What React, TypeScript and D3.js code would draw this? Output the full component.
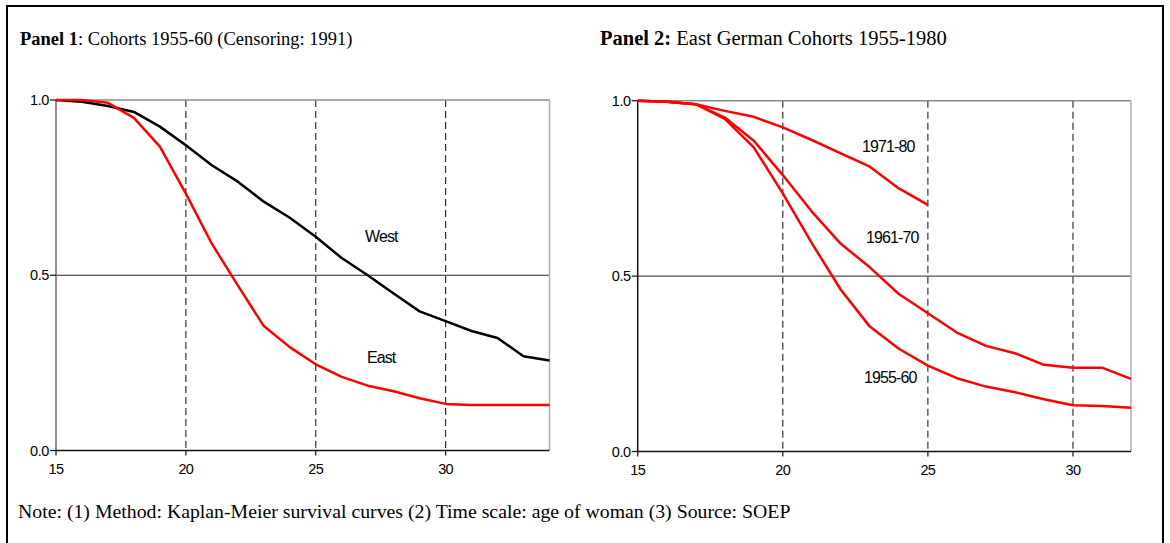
import React from "react";
import * as d3 from "d3";

// ages (x values) and survival estimates
const agesP1 = [15, 16, 17, 18, 19, 20, 21, 22, 23, 24, 25, 26, 27, 28, 29, 30, 31, 32, 33, 34];
const west = [1.0, 0.995, 0.983, 0.966, 0.924, 0.871, 0.814, 0.767, 0.71, 0.664, 0.61, 0.549, 0.5, 0.448, 0.397, 0.369, 0.341, 0.321, 0.269, 0.257];
const east = [1.0, 1.0, 0.992, 0.949, 0.867, 0.733, 0.59, 0.471, 0.355, 0.295, 0.246, 0.21, 0.185, 0.169, 0.149, 0.133, 0.13, 0.13, 0.13, 0.13];

const agesP2 = [15, 16, 17, 18, 19, 20, 21, 22, 23, 24, 25, 26, 27, 28, 29, 30, 31, 32];
const c1955 = [1.0, 0.997, 0.99, 0.948, 0.867, 0.736, 0.594, 0.461, 0.356, 0.293, 0.245, 0.209, 0.185, 0.169, 0.149, 0.132, 0.13, 0.125];
const c1961 = [1.0, 0.997, 0.99, 0.952, 0.886, 0.788, 0.684, 0.592, 0.525, 0.449, 0.394, 0.339, 0.301, 0.28, 0.247, 0.239, 0.239, 0.207];
const c1971 = [1.0, 0.997, 0.99, 0.971, 0.954, 0.924, 0.888, 0.85, 0.812, 0.75, 0.703];

const xTicks = [15, 20, 25, 30];
const yTicks = [0, 0.5, 1];

type Series = { ages: number[]; values: number[]; color: string };
type Label = { text: string; x: number; y: number };

function Panel(props: {
  left: number; right: number; top: number; bottom: number;
  xMax: number; axisColor: string;
  series: Series[]; labels: Label[];
}) {
  const { left, right, top, bottom, xMax, axisColor, series, labels } = props;
  const x = d3.scaleLinear().domain([15, xMax]).range([left, right]);
  const y = d3.scaleLinear().domain([0, 1]).range([bottom, top]);
  const line = d3.line<[number, number]>().x(d => x(d[0])).y(d => y(d[1]));
  const font = "Arial, 'Liberation Sans', sans-serif";
  return (
    <g>
      {/* dashed verticals */}
      {xTicks.filter(t => t > 15).map(t => (
        <line key={"v" + t} x1={x(t)} x2={x(t)} y1={top} y2={bottom}
          stroke="#333" strokeWidth={1.2} strokeDasharray="7,4" />
      ))}
      {/* 0.5 grid line */}
      <line x1={left} x2={right} y1={y(0.5)} y2={y(0.5)} stroke="#222" strokeWidth={1} />
      {/* frame */}
      <line x1={left} x2={right} y1={top} y2={top} stroke="#8a8a8a" strokeWidth={1.5} />
      <line x1={right} x2={right} y1={top} y2={bottom} stroke="#b0b0b0" strokeWidth={1.5} />
      <line x1={left} x2={left} y1={top} y2={bottom} stroke={axisColor} strokeWidth={1.5} />
      <line x1={left} x2={right} y1={bottom} y2={bottom} stroke="#111" strokeWidth={1.5} />
      {yTicks.map(t => (
        <g key={"y" + t}>
          <line x1={left - 6} x2={left} y1={y(t)} y2={y(t)} stroke="#111" strokeWidth={1.2} />
          <text x={left - 7} y={y(t) + 5} textAnchor="end" fontFamily={font} fontSize={14.5} letterSpacing={-0.4}>
            {t.toFixed(1)}
          </text>
        </g>
      ))}
      {xTicks.map(t => (
        <g key={"x" + t}>
          <line x1={x(t)} x2={x(t)} y1={bottom} y2={bottom + 5} stroke="#111" strokeWidth={1.2} />
          <text x={x(t)} y={bottom + 23} textAnchor="middle" fontFamily={font} fontSize={14.5} letterSpacing={-0.6}>
            {t}
          </text>
        </g>
      ))}
      {series.map((s, i) => (
        <path key={"s" + i}
          d={line(s.ages.slice(0, s.values.length).map((a, j) => [a, s.values[j]] as [number, number])) || ""}
          fill="none" stroke={s.color} strokeWidth={2.5} strokeLinejoin="round" />
      ))}
      {labels.map(l => (
        <text key={l.text} x={l.x} y={l.y} fontFamily={font} fontSize={16} letterSpacing={-0.9}>
          {l.text}
        </text>
      ))}
    </g>
  );
}

export default function App() {
  const serif = "'Liberation Serif', 'Times New Roman', serif";
  return (
    <svg width={1170} height={543} style={{ position: "absolute", left: 0, top: 0, background: "#fff" }}>
      <rect x={0} y={0} width={1170} height={543} fill="#fff" />
      <rect x={7} y={6} width={1156} height={560} fill="none" stroke="#000" strokeWidth={2} />
      <text x={20} y={45} fontFamily={serif} fontSize={18.5}>
        <tspan fontWeight="bold">Panel 1</tspan>: Cohorts 1955-60 (Censoring: 1991)
      </text>
      <text x={600} y={45} fontFamily={serif} fontSize={20.5}>
        <tspan fontWeight="bold">Panel 2:</tspan> East German Cohorts 1955-1980
      </text>
      <Panel left={56} right={549.5} top={100} bottom={450.5} xMax={34} axisColor="#6a6a6a"
        series={[
          { ages: agesP1, values: west, color: "#000" },
          { ages: agesP1, values: east, color: "#ff0000" },
        ]}
        labels={[
          { text: "West", x: 365, y: 242 },
          { text: "East", x: 367, y: 363 },
        ]} />
      <Panel left={637.7} right={1131} top={100.7} bottom={451.5} xMax={32} axisColor="#111"
        series={[
          { ages: agesP2, values: c1971, color: "#ff0000" },
          { ages: agesP2, values: c1961, color: "#ff0000" },
          { ages: agesP2, values: c1955, color: "#ff0000" },
        ]}
        labels={[
          { text: "1971-80", x: 862, y: 152 },
          { text: "1961-70", x: 866, y: 243 },
          { text: "1955-60", x: 864, y: 383 },
        ]} />
      <text x={18} y={518} fontFamily={serif} fontSize={19.8}>
        Note: (1) Method: Kaplan-Meier survival curves (2) Time scale: age of woman (3) Source: SOEP
      </text>
    </svg>
  );
}
